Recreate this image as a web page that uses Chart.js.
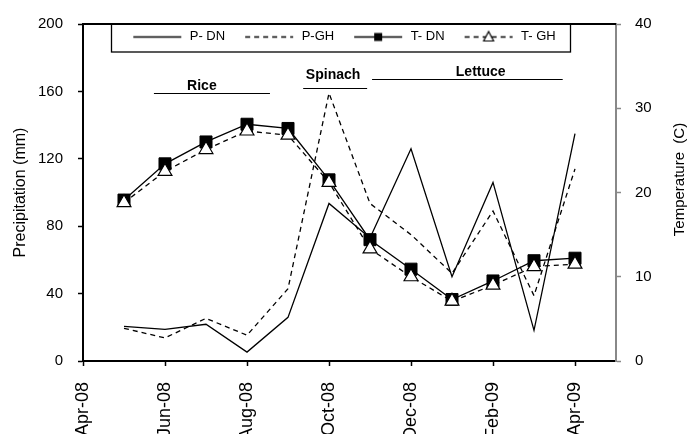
<!DOCTYPE html>
<html>
<head>
<meta charset="utf-8">
<style>
  html, body { margin: 0; padding: 0; background: #fff; overflow: hidden; }
  #chart { display: block; }
</style>
<script src="https://cdn.jsdelivr.net/npm/chart.js@4.4.0/dist/chart.umd.min.js"></script>
</head>
<body>
<canvas id="chart" width="691" height="434"></canvas>
<script>
// Months on the x axis (Apr-08 .. May-09), data from May-08 to Apr-09
const months = ['Apr-08', 'May-08', 'Jun-08', 'Jul-08', 'Aug-08', 'Sep-08', 'Oct-08',
  'Nov-08', 'Dec-08', 'Jan-09', 'Feb-09', 'Mar-09', 'Apr-09', 'May-09'];

// Precipitation (mm), left axis
const precipDN = [null, 20.6, 18.8, 21.8, 5.3, 25.9, 93.5, 73, 126, 50, 106, 18.2, 135, null];
const precipGH = [null, 19.4, 13.7, 25.3, 15.3, 42.9, 159, 93.5, 75, 52, 89, 38.8, 114, null];

// Temperature (C), right axis
const tempDN = [null, 19.1, 23.4, 26.0, 28.1, 27.6, 21.5, 14.4, 10.9, 7.3, 9.5, 11.9, 12.2, null];
const tempGH = [null, 18.8, 22.5, 25.1, 27.3, 26.8, 21.2, 13.3, 10.0, 7.1, 9.0, 11.2, 11.5, null];

const seriesLabels = ['P- DN', 'P-GH', 'T- DN', 'T- GH'];

// Crop periods (x in month index, y in mm)
const cropNames = ['Rice', 'Spinach', 'Lettuce'];
const cropStart = [1.73, 5.37, 7.05];
const cropEnd = [4.56, 6.93, 11.7];
const cropLineMm = [158.8, 161.8, 167.6];
const cropTextX = [2.9, 6.1, 9.7];
const cropTextMm = [160.6, 167.6, 169.4];

const leftTicks = [0, 40, 80, 120, 160, 200];
const rightTicks = [0, 10, 20, 30, 40];

Chart.defaults.font.family = '"Liberation Sans", Arial, sans-serif';
Chart.defaults.color = '#000';

// Small pictures for the legend: line with marker
function legendIcon(dashed, marker) {
  const c = document.createElement('canvas');
  c.width = 62;
  c.height = 16;
  const g = c.getContext('2d');
  g.strokeStyle = '#000';
  g.lineWidth = 1.3;
  if (dashed) g.setLineDash([5, 4]);
  g.beginPath();
  g.moveTo(12, 8.5);
  g.lineTo(60, 8.5);
  g.stroke();
  g.setLineDash([]);
  if (marker === 'rect') {
    g.fillStyle = '#000';
    g.fillRect(32, 4.5, 8, 8);
  } else if (marker === 'triangle') {
    g.fillStyle = '#fff';
    g.lineWidth = 1.2;
    g.beginPath();
    g.moveTo(36, 3);
    g.lineTo(41, 12.5);
    g.lineTo(31, 12.5);
    g.closePath();
    g.fill();
    g.stroke();
  }
  return c;
}

const icons = [legendIcon(false), legendIcon(true), legendIcon(false, 'rect'), legendIcon(true, 'triangle')];

const decorPlugin = {
  id: 'decor',
  // legend takes no room in the layout but still needs a visible area
  afterLayout(chart) {
    const lg = chart.legend;
    lg.top -= 2;
    lg.right -= 14;
    lg.height = 32;
    lg.bottom = lg.top + 32;
  },
  afterDraw(chart) {
    const ctx = chart.ctx;
    const area = chart.chartArea;
    const x = chart.scales.x;
    const y = chart.scales.yL;
    ctx.save();

    // top of the frame
    ctx.strokeStyle = '#000';
    ctx.lineWidth = 2;
    ctx.beginPath();
    ctx.moveTo(area.left - 1, area.top);
    ctx.lineTo(area.right, area.top);
    ctx.stroke();

    // legend box
    const boxes = chart.legend.legendHitBoxes;
    if (boxes && boxes.length) {
      const first = boxes[0];
      const last = boxes[boxes.length - 1];
      const l = first.left - 10;
      const r = last.left + last.width + 15;
      ctx.lineWidth = 1.3;
      ctx.strokeRect(Math.round(l) + 0.5, area.top, Math.round(r - l), 28);
    }

    // crop periods
    ctx.lineWidth = 1.2;
    ctx.font = 'bold 14px "Liberation Sans", Arial, sans-serif';
    ctx.textAlign = 'center';
    ctx.textBaseline = 'alphabetic';
    ctx.fillStyle = '#000';
    cropNames.forEach((name, i) => {
      const ly = Math.round(y.getPixelForValue(cropLineMm[i])) + 0.5;
      ctx.beginPath();
      ctx.moveTo(x.getPixelForValue(cropStart[i]), ly);
      ctx.lineTo(x.getPixelForValue(cropEnd[i]), ly);
      ctx.stroke();
      ctx.fillText(name, x.getPixelForValue(cropTextX[i]), y.getPixelForValue(cropTextMm[i]));
    });

    // right axis title, reading upwards
    ctx.font = '15px "Liberation Sans", Arial, sans-serif';
    ctx.textBaseline = 'middle';
    ctx.translate(680, (area.top + area.bottom) / 2 - 13);
    ctx.rotate(-Math.PI / 2);
    ctx.fillText('Temperature  (C)', 0, 0);
    ctx.restore();
  }
};

new Chart(document.getElementById('chart'), {
  type: 'line',
  data: {
    labels: months,
    datasets: [
      {
        label: seriesLabels[0],
        data: precipDN,
        yAxisID: 'yL',
        borderColor: '#000',
        borderWidth: 1.3,
        pointRadius: 0,
        order: 2
      },
      {
        label: seriesLabels[1],
        data: precipGH,
        yAxisID: 'yL',
        borderColor: '#000',
        borderWidth: 1.3,
        borderDash: [5, 4],
        pointRadius: 0,
        order: 3
      },
      {
        label: seriesLabels[2],
        data: tempDN,
        yAxisID: 'yR',
        borderColor: '#000',
        borderWidth: 1.3,
        pointStyle: 'rect',
        pointRadius: 8.5,
        pointBackgroundColor: '#000',
        pointBorderColor: '#000',
        pointBorderWidth: 1,
        order: 1
      },
      {
        label: seriesLabels[3],
        data: tempGH,
        yAxisID: 'yR',
        borderColor: '#000',
        borderWidth: 1.3,
        borderDash: [5, 4],
        pointStyle: 'triangle',
        pointRadius: 8,
        pointBackgroundColor: '#fff',
        pointBorderColor: '#000',
        pointBorderWidth: 1.2,
        order: 0
      }
    ]
  },
  options: {
    responsive: false,
    animation: false,
    layout: { padding: { top: 21, left: 0, right: 0, bottom: 0 } },
    plugins: {
      tooltip: { enabled: false },
      legend: {
        position: 'top',
        maxHeight: 0.01,
        labels: {
          usePointStyle: true,
          pointStyleWidth: 62,
          padding: 8,
          color: '#000',
          font: { size: 13 },
          generateLabels: chart => chart.data.datasets.map((ds, i) => ({
            text: ds.label,
            pointStyle: icons[i],
            fillStyle: '#000',
            strokeStyle: '#000',
            lineWidth: 0,
            hidden: false,
            fontColor: '#000',
            datasetIndex: i
          }))
        }
      }
    },
    scales: {
      x: {
        type: 'category',
        offset: false,
        grid: {
          drawOnChartArea: false,
          tickLength: 5,
          tickWidth: 1.5,
          tickColor: ctx => (ctx.index % 2 === 0 ? '#000' : 'rgba(0,0,0,0)')
        },
        border: { color: '#000', width: 2 },
        ticks: {
          autoSkip: false,
          minRotation: 90,
          maxRotation: 90,
          padding: 16,
          color: '#000',
          font: { size: 18 },
          callback: function (value, index) {
            return index % 2 === 0 ? this.getLabelForValue(value) : '';
          }
        },
        afterFit: scale => { scale.height = 73; }
      },
      yL: {
        position: 'left',
        min: 0,
        max: 200,
        afterBuildTicks: scale => { scale.ticks = leftTicks.map(v => ({ value: v })); },
        grid: { drawOnChartArea: false, tickLength: 5, tickWidth: 1.5, tickColor: '#000' },
        border: { color: '#000', width: 2 },
        ticks: { padding: 15, color: '#000', font: { size: 15 } },
        title: {
          display: true,
          text: 'Precipitation (mm)',
          color: '#000',
          font: { size: 16 },
          padding: { top: 11, bottom: 0 }
        },
        afterFit: scale => { scale.width = 83; }
      },
      yR: {
        position: 'right',
        min: 0,
        max: 40,
        afterBuildTicks: scale => { scale.ticks = rightTicks.map(v => ({ value: v })); },
        grid: { drawOnChartArea: false, tickLength: 5, tickWidth: 1.5, tickColor: '#888' },
        border: { color: '#888', width: 2 },
        ticks: { padding: 14, color: '#000', font: { size: 15 } },
        afterFit: scale => { scale.width = 75; }
      }
    }
  },
  plugins: [decorPlugin]
});
</script>
</body>
</html>
